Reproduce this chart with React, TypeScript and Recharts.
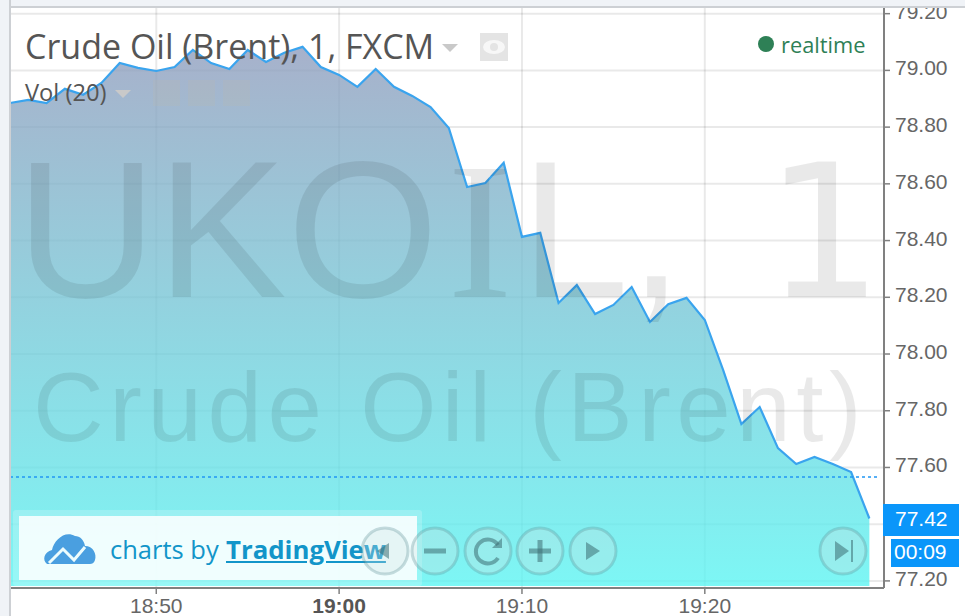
import { ComposedChart, Area, XAxis, YAxis, CartesianGrid, ReferenceLine } from 'recharts';

// minutes after 18:00, one point per minute
const minutes = [
  42, 43, 44, 45, 46, 47, 48, 49, 50, 51, 52, 53, 54, 55, 56, 57,
  58, 59, 60, 61, 62, 63, 64, 65, 66, 67, 68, 69, 70, 71, 72, 73,
  74, 75, 76, 77, 78, 79, 80, 81, 82, 83, 84, 85, 86, 87, 88, 89,
];
const prices = [
  78.885, 78.896, 78.885, 78.935, 78.914, 78.956, 79.026, 79.009, 78.998, 79.012, 79.072, 79.026, 79.005, 79.072, 79.03, 79.062,
  79.083, 79.012, 78.984, 78.942, 79.005, 78.942, 78.91, 78.871, 78.797, 78.589, 78.603, 78.674, 78.413, 78.427, 78.18, 78.243,
  78.141, 78.173, 78.236, 78.113, 78.176, 78.198, 78.12, 77.944, 77.753, 77.813, 77.668, 77.612, 77.637, 77.612, 77.584, 77.42,
];
const xTicks = [50, 60, 70, 80];
const yTicks = [77.2, 77.4, 77.6, 77.8, 78, 78.2, 78.4, 78.6, 78.8, 79, 79.2];
const prevClose = 77.566;
const lastPrice = '77.42';
const countdown = '00:09';

const chartData = minutes.map((m, i) => ({ minute: m, price: prices[i] }));

const AXIS = '#808080';
const TICK_TEXT = '#666666';
const ARIAL = '"Liberation Sans", Arial, sans-serif';
const OPEN = '"Open Sans", sans-serif';
const GLYPH = 'rgba(60,110,115,0.55)';
const WATERMARK = 'rgba(0,0,0,0.085)';

function formatMinute(m: number) {
  const total = 18 * 60 + m;
  return `${Math.floor(total / 60)}:${String(total % 60).padStart(2, '0')}`;
}

function TimeTick({ x, y, payload }: any) {
  const label = formatMinute(payload.value);
  return (
    <text
      x={x}
      y={y + 17}
      textAnchor="middle"
      fontFamily={ARIAL}
      fontSize={21}
      fontWeight={label === '19:00' ? 700 : 400}
      fill={label === '19:00' ? '#555555' : TICK_TEXT}
    >
      {label}
    </text>
  );
}

function PriceTick({ x, y, payload }: any) {
  // 77.40 sits behind the last price badge in the original, only its grid line shows
  if (payload.value === 77.4) return <g />;
  return (
    <text x={x + 3} y={y + 5} fontFamily={ARIAL} fontSize={21} fill={TICK_TEXT}>
      {payload.value.toFixed(2)}
    </text>
  );
}

function Triangle({ left, top, size }: { left: number; top: number; size: number }) {
  return (
    <div
      style={{
        position: 'absolute',
        left,
        top,
        width: 0,
        height: 0,
        borderLeft: `${size}px solid transparent`,
        borderRight: `${size}px solid transparent`,
        borderTop: `${size}px solid #c9c9c9`,
      }}
    />
  );
}

function label(left: number, top: number, size: number, color: string, text: string, extra: any = {}) {
  return (
    <div
      style={{
        position: 'absolute',
        left,
        top,
        fontFamily: OPEN,
        fontSize: size,
        lineHeight: 1,
        color,
        whiteSpace: 'nowrap',
        ...extra,
      }}
    >
      {text}
    </div>
  );
}

function NavButtons() {
  const ring = { fill: 'rgba(205,225,225,0.3)', stroke: 'rgba(90,140,145,0.3)', strokeWidth: 3 };
  return (
    <svg width={965} height={616} style={{ position: 'absolute', left: 0, top: 0 }}>
      <circle cx={385} cy={551} r={23} {...ring} />
      <path d="M377 551 L389 543 L389 559 Z" fill={GLYPH} />
      <circle cx={435} cy={551} r={23} {...ring} />
      <rect x={424} y={548.5} width={22} height={5} fill={GLYPH} />
      <circle cx={488} cy={551} r={23} {...ring} />
      <path d="M498 545 A12 12 0 1 0 498 558" fill="none" stroke={GLYPH} strokeWidth={4} />
      <path d="M492 548 L502 548 L502 538 Z" fill={GLYPH} />
      <circle cx={540} cy={551} r={23} {...ring} />
      <rect x={529} y={548.5} width={22} height={5} fill={GLYPH} />
      <rect x={537.5} y={540} width={5} height={22} fill={GLYPH} />
      <circle cx={593} cy={551} r={23} {...ring} />
      <path d="M586 542 L600 551 L586 560 Z" fill={GLYPH} />
      <circle cx={843} cy={551} r={23} {...ring} />
      <path d="M835 541 L849 551 L835 561 Z" fill={GLYPH} />
      <rect x={851} y={540} width={2} height={22} fill={GLYPH} />
    </svg>
  );
}

export default function App() {
  return (
    <div style={{ position: 'relative', width: 965, height: 616, background: '#ffffff', overflow: 'hidden' }}>
      <style>{`body { margin: 0; }`}</style>

      <ComposedChart
        width={965}
        height={616}
        data={chartData}
        margin={{ top: 8, right: 0, bottom: 0, left: 10 }}
        style={{ position: 'absolute', left: 0, top: 0 }}
      >
        <defs>
          <linearGradient id="priceFill" x1="0" y1="0" x2="0" y2="1">
            <stop offset="0%" stopColor="#8e9bbc" stopOpacity={0.78} />
            <stop offset="100%" stopColor="#58f4f2" stopOpacity={0.78} />
          </linearGradient>
        </defs>
        <XAxis
          dataKey="minute"
          type="number"
          domain={[42, 89.8]}
          ticks={xTicks}
          tick={<TimeTick />}
          tickSize={6}
          axisLine={{ stroke: AXIS, strokeWidth: 2 }}
          tickLine={{ stroke: AXIS, strokeWidth: 1.5 }}
          interval={0}
          height={28}
        />
        <YAxis
          orientation="right"
          type="number"
          domain={[77.175, 79.22]}
          ticks={yTicks}
          tick={<PriceTick />}
          tickSize={6}
          axisLine={{ stroke: AXIS, strokeWidth: 2 }}
          tickLine={{ stroke: AXIS, strokeWidth: 1.5 }}
          interval={0}
          width={81}
          allowDataOverflow
        />
        <Area
          type="linear"
          dataKey="price"
          baseValue={77.182}
          stroke="#3aa4ee"
          strokeWidth={2.2}
          fill="url(#priceFill)"
          fillOpacity={1}
          dot={false}
          activeDot={false}
          isAnimationActive={false}
        />
        <CartesianGrid stroke="rgba(0,0,0,0.085)" strokeWidth={2} verticalValues={xTicks} horizontalValues={yTicks} />
        <ReferenceLine
          segment={[
            { x: 42, y: prevClose },
            { x: 89.5, y: prevClose },
          ]}
          stroke="#2196f3"
          strokeWidth={1.5}
          strokeDasharray="3 3"
        />
      </ComposedChart>

      {/* frame and page strips */}
      <div style={{ position: 'absolute', left: 0, top: 0, width: 965, height: 6, background: '#f0f3f7', borderBottom: '2px solid #cdd0d4' }} />
      <div style={{ position: 'absolute', left: 0, top: 0, width: 9, height: 616, background: '#f0f3f7', borderRight: '2px solid #cdd0d4' }} />

      {/* watermark, the original face has a serifed I and a 1 with a foot */}
      <div style={{ position: 'absolute', left: 16, top: 132, fontFamily: ARIAL, fontSize: 195, lineHeight: 1, color: WATERMARK, whiteSpace: 'pre' }}>
        <span>UKO</span>
        <span style={{ fontFamily: '"Liberation Serif", serif', marginLeft: 9, marginRight: 8 }}>I</span>
        <span>{'L, '}</span>
        <span style={{ fontFamily: '"DejaVu Sans", sans-serif', fontSize: 185, marginLeft: 28 }}>1</span>
      </div>
      {label(33, 358, 98, WATERMARK, 'Crude Oil (Brent)', { fontFamily: ARIAL, letterSpacing: 5.5 })}

      {/* legend */}
      {label(25, 29, 34, '#555555', 'Crude Oil (Brent), 1, FXCM')}
      <Triangle left={442} top={44} size={8} />
      <div style={{ position: 'absolute', left: 480, top: 33, width: 28, height: 28, background: '#e4e4e4' }}>
        <svg width={28} height={28}>
          <ellipse cx={14} cy={14} rx={11} ry={7} fill="#f7f7f7" />
          <circle cx={14} cy={14} r={4} fill="#e4e4e4" />
        </svg>
      </div>
      {label(25, 81, 23.7, '#555555', 'Vol (20)')}
      <Triangle left={115} top={90} size={8} />
      {[153, 188, 223].map((left) => (
        <div key={left} style={{ position: 'absolute', left, top: 80, width: 27, height: 26, background: 'rgba(190,185,170,0.2)' }} />
      ))}
      <div style={{ position: 'absolute', left: 758, top: 36, width: 16, height: 16, borderRadius: '50%', background: '#2e8056' }} />
      {label(781, 34, 21.8, '#2e8056', 'realtime')}

      {/* branding box */}
      <div style={{ position: 'absolute', left: 13, top: 510, width: 409, height: 76, background: 'rgba(255,255,255,0.2)', borderRadius: 3 }} />
      <div style={{ position: 'absolute', left: 19, top: 516, width: 398, height: 64, background: 'rgba(255,255,255,0.85)' }} />
      <svg width={60} height={40} style={{ position: 'absolute', left: 41, top: 530 }}>
        <path
          d="M6 34 C1 30 3 22 11 20 C13 10 24 0 34 6 C39 6 43 10 44 16 C52 16 56 24 54 30 C53 33 51 34 49 34 Z"
          fill="#4a9fe0"
        />
        <path d="M8 33 L22 19 L33 30 L44 17" fill="none" stroke="#ecfcfd" strokeWidth={3} />
      </svg>
      {label(110, 537, 25.5, '#1295c9', 'charts by')}
      {label(226, 537, 25.8, '#1295c9', 'TradingView', { fontWeight: 700, textDecoration: 'underline' })}

      <NavButtons />

      {/* price and countdown badges */}
      <div style={{ position: 'absolute', left: 883, top: 504, width: 76, height: 32, background: '#0a96fa', color: '#ffffff', fontFamily: ARIAL, fontSize: 21, lineHeight: '30px', paddingLeft: 12, boxSizing: 'border-box' }}>
        {lastPrice}
      </div>
      <div style={{ position: 'absolute', left: 891, top: 539, width: 68, height: 28, background: '#0a96fa', color: '#ffffff', fontFamily: ARIAL, fontSize: 21, lineHeight: '26px', paddingLeft: 3, boxSizing: 'border-box' }}>
        {countdown}
      </div>
    </div>
  );
}
